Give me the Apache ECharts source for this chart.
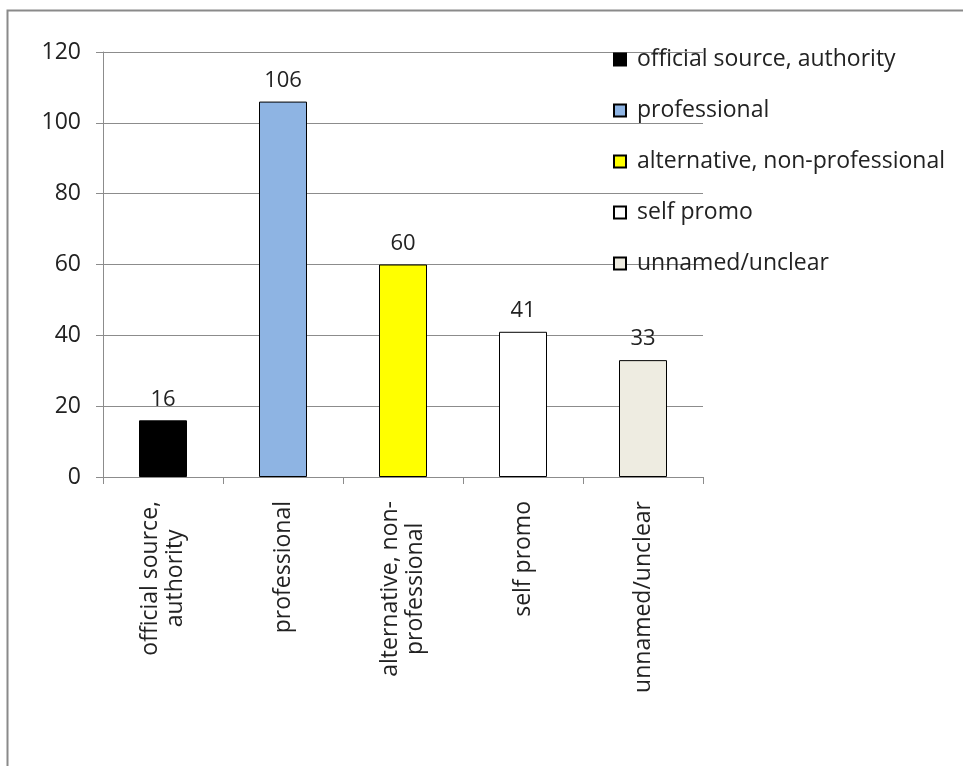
<!DOCTYPE html>
<html>
<head>
<meta charset="utf-8">
<script src="https://cdn.jsdelivr.net/npm/echarts@6/dist/echarts.min.js"></script>
<style>
  html, body { margin: 0; padding: 0; background: #fff; }
  #chart { width: 963px; height: 766px; }
</style>
</head>
<body>
<div id="chart"></div>
<script>
// Source categories and the number of items counted for each
const categories = [
  'official source, authority',
  'professional',
  'alternative, non-professional',
  'self promo',
  'unnamed/unclear'
];
const axisLabels = [
  'official source,\nauthority',
  'professional',
  'alternative, non-\nprofessional',
  'self promo',
  'unnamed/unclear'
];
const counts = [16, 106, 60, 41, 33];
const barColors = ['#000000', '#8EB4E3', '#FFFF00', '#FFFFFF', '#EEECE1'];
const yTicks = { min: 0, max: 120, interval: 20 };

const FONT = '"Open Sans", "DejaVu Sans", sans-serif';
const FS = 23;
const TEXT = '#222';
const GRID_GRAY = '#8c8c8c';

// One series per category so each gets its own legend entry; stacking keeps
// each bar centred on its category.
const series = categories.map((name, i) => ({
  name: name,
  type: 'bar',
  stack: 'all',
  barWidth: 48,
  data: counts.map((v, j) => (j === i ? v : null)),
  itemStyle: { color: barColors[i], borderColor: '#000', borderWidth: 1 },
  label: {
    show: true,
    position: 'top',
    distance: 10,
    color: TEXT,
    fontFamily: FONT,
    fontSize: 22
  }
}));

const chart = echarts.init(document.getElementById('chart'));
chart.setOption({
  animation: false,
  backgroundColor: '#fff',
  graphic: [{
    type: 'rect',
    left: 5, top: 8,
    shape: { width: 1000, height: 1000 },
    style: { fill: 'none', stroke: '#8a8a8a', lineWidth: 2 },
    silent: true
  }],
  grid: { left: 103, right: 260, top: 52, bottom: 289 },
  legend: {
    orient: 'vertical',
    left: 613,
    top: 48,
    padding: 0,
    itemWidth: 12,
    itemHeight: 12,
    itemGap: 28,
    icon: 'rect',
    data: categories,
    textStyle: {
      fontFamily: FONT,
      fontSize: FS,
      color: TEXT,
      lineHeight: 21,
      padding: [0, 0, 0, 6]
    }
  },
  xAxis: {
    type: 'category',
    data: axisLabels,
    axisLine: { lineStyle: { color: GRID_GRAY, width: 1 } },
    axisTick: { show: true, length: 7, lineStyle: { color: GRID_GRAY } },
    axisLabel: {
      rotate: 90,
      margin: 24,
      interval: 0,
      color: TEXT,
      fontFamily: FONT,
      fontSize: FS,
      lineHeight: 25,
      formatter: v => v.split('\n').map(s => '{c|' + s + '}').join('\n'),
      rich: { c: { align: 'center', fontFamily: FONT, fontSize: FS, color: TEXT, lineHeight: 25 } }
    }
  },
  yAxis: {
    type: 'value',
    min: yTicks.min,
    max: yTicks.max,
    interval: yTicks.interval,
    axisLine: { show: true, lineStyle: { color: GRID_GRAY, width: 1 } },
    axisTick: { show: true, length: 7, lineStyle: { color: GRID_GRAY } },
    splitLine: { lineStyle: { color: GRID_GRAY, width: 1 } },
    axisLabel: {
      margin: 22,
      color: TEXT,
      fontFamily: FONT,
      fontSize: FS
    }
  },
  series: series
});
</script>
</body>
</html>
